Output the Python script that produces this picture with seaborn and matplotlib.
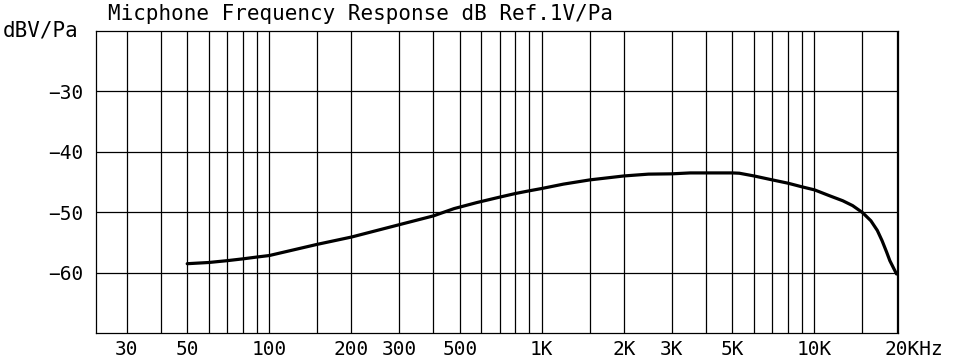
import numpy as np
import pandas as pd
import matplotlib
matplotlib.use("Agg")
import matplotlib.pyplot as plt
import matplotlib.transforms as mtransforms
from matplotlib.ticker import FixedLocator, NullLocator
import seaborn as sns

# ---- data ----
freq_hz = [50, 60, 70, 80, 90, 100, 150, 200, 300, 400, 476, 577, 700, 800, 900,
           1000, 1200, 1500, 2000, 2460, 3000, 3500, 4000, 5000, 5300, 6000, 7000,
           8000, 9000, 10000, 11400, 12700, 13800, 15000, 16100, 17000, 17700,
           18400, 18900, 20000]
level_db = [-58.5, -58.3, -58.0, -57.7, -57.4, -57.15, -55.3, -54.1, -52.05, -50.6,
            -49.4, -48.4, -47.5, -46.9, -46.45, -46.07, -45.35, -44.65, -44.0, -43.7,
            -43.65, -43.5, -43.5, -43.5, -43.55, -44.0, -44.65, -45.2, -45.8, -46.3,
            -47.3, -48.1, -48.9, -50.05, -51.4, -53.0, -54.7, -56.6, -58.0,
            -60.2]

grid_freqs = [30, 40, 50, 60, 70, 80, 90, 100, 150, 200, 300, 400, 500, 600, 700,
              800, 900, 1000, 1500, 2000, 3000, 4000, 5000, 6000, 7000, 8000, 9000,
              10000, 15000, 20000]
labeled = {30: "30", 50: "50", 100: "100", 200: "200", 300: "300", 500: "500",
           1000: "1K", 2000: "2K", 3000: "3K", 5000: "5K", 10000: "10K", 20000: "20KHz"}
y_ticks = [-60, -50, -40, -30]
y_tick_labels = ["\u221260", "\u221250", "\u221240", "\u221230"]

title_text = "Micphone Frequency Response dB Ref.1V/Pa"
unit_text = "dBV/Pa"

# ---- style ----
sns.set_style("white")
plt.rcParams['font.family'] = ['DejaVu Sans Mono', 'DejaVu Sans']

fig = plt.figure(figsize=(9.6, 3.64), dpi=100)
ax = fig.add_axes([96.3 / 960, 1 - 333.3 / 364, (898.3 - 96.3) / 960, (333.3 - 30.7) / 364])

df = pd.DataFrame({"freq": freq_hz, "level": level_db})
sns.lineplot(data=df, x="freq", y="level", ax=ax, color="black", linewidth=2.3)

ax.set_xscale("log")
ax.set_xlim(23.2, 20300)
ax.set_ylim(-70, -20)

ax.xaxis.set_major_locator(FixedLocator(grid_freqs))
ax.xaxis.set_minor_locator(NullLocator())
ax.set_xticklabels([labeled.get(f, "") for f in grid_freqs])
ax.set_yticks(y_ticks)
ax.set_yticklabels(y_tick_labels)

ax.tick_params(axis="both", length=0, labelsize=14, colors="black")
ax.tick_params(axis="x", pad=5)
ax.tick_params(axis="y", pad=9)

ax.grid(True, color="black", linewidth=0.9)
for sp in ax.spines.values():
    sp.set_visible(True)
    sp.set_color("black")
    sp.set_linewidth(0.9)

ax.set_xlabel("")
ax.set_ylabel("")

# shift the last label so it starts just left of the 20K line
last = ax.get_xticklabels()[-1]
last.set_horizontalalignment("left")
last.set_transform(last.get_transform() + mtransforms.ScaledTranslation(-12 / 100, 0, fig.dpi_scale_trans))

fig.text(108 / 960, 1 - 20 / 364, title_text, fontsize=15, ha="left", va="baseline", color="black")
fig.text(3 / 960, 1 - 36 / 364, unit_text, fontsize=15, ha="left", va="baseline", color="black")

fig.savefig("out.png", dpi=100, facecolor="white")
